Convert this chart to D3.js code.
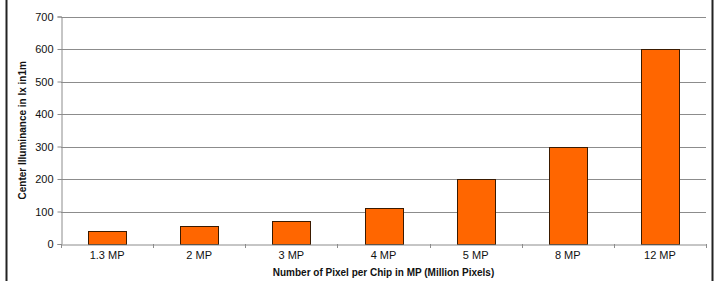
<!DOCTYPE html>
<html><head><meta charset="utf-8">
<script src="https://cdn.jsdelivr.net/npm/d3@7"></script>
<style>body{margin:0;background:#fff}svg{display:block}text{font-family:"Liberation Sans",Arial,sans-serif}</style>
</head><body>
<script>
const categories = ["1.3 MP","2 MP","3 MP","4 MP","5 MP","8 MP","12 MP"];
const values = [40, 55, 70, 110, 200, 300, 600];
const yTicks = [0,100,200,300,400,500,600,700];
const xTitle = "Number of Pixel per Chip in MP (Million Pixels)";
const yTitle = "Center Illuminance in lx in1m";

(function(){
const W = 719, H = 281;
const svg = d3.select("body").append("svg").attr("width", W).attr("height", H);

// frame
svg.append("line").attr("x1",6.5).attr("x2",6.5).attr("y1",0).attr("y2",H).attr("stroke","#222").attr("stroke-width",2);
svg.append("line").attr("x1",712.5).attr("x2",712.5).attr("y1",0).attr("y2",H).attr("stroke","#222").attr("stroke-width",2);

const pl = 61, pr = 706, pt = 16.5, pb = 244;
const x = d3.scaleBand().domain(categories).range([pl, pr]).paddingInner(0.59).paddingOuter(0.295);
const xb = d3.scaleBand().domain(categories).range([pl, pr]);
const y = d3.scaleLinear().domain([0,700]).range([pb, pt]);

// gridlines
svg.append("g").selectAll("line").data(yTicks.filter(d=>d>0)).join("line")
  .attr("x1", pl).attr("x2", pr)
  .attr("y1", d=>Math.round(y(d))+0.5).attr("y2", d=>Math.round(y(d))+0.5)
  .attr("stroke","#8c8c8c").attr("stroke-width",1);

// y axis
const ya = svg.append("g").attr("transform",`translate(${pl+0.5},0)`)
  .call(d3.axisLeft(y).tickValues(yTicks).tickSize(4).tickPadding(4));
ya.select(".domain").attr("stroke","#8c8c8c");
ya.selectAll(".tick line").attr("stroke","#8c8c8c");
ya.selectAll("text").attr("font-size",11).attr("fill","#111").attr("font-family","Liberation Sans, Arial, sans-serif");

// bars
svg.append("g").selectAll("rect").data(values).join("rect")
  .attr("x",(d,i)=>Math.round(x(categories[i]))+0.5)
  .attr("y",d=>Math.round(y(d))+0.5)
  .attr("width",Math.round(x.bandwidth()))
  .attr("height",d=>Math.round(y(0))-Math.round(y(d)))
  .attr("fill","#ff6600").attr("stroke","#3a1a00").attr("stroke-width",1);

// x axis
const xa = svg.append("g").attr("transform",`translate(0,${pb+0.5})`)
  .call(d3.axisBottom(xb).tickSize(0).tickPadding(7));
xa.select(".domain").attr("stroke","#8c8c8c");
xa.selectAll("text").attr("font-size",11).attr("fill","#111").attr("font-family","Liberation Sans, Arial, sans-serif");
const bounds = categories.map(c=>xb(c)).concat([pr]);
svg.append("g").selectAll("line").data(bounds).join("line")
  .attr("x1",d=>Math.round(d)+0.5).attr("x2",d=>Math.round(d)+0.5)
  .attr("y1",pb).attr("y2",pb+4).attr("stroke","#8c8c8c");

// titles
svg.append("text").attr("x",(pl+pr)/2).attr("y",276).attr("text-anchor","middle")
  .attr("font-size",10).attr("font-weight","bold").attr("fill","#111").text(xTitle);
svg.append("text").attr("transform",`translate(26,${(pt+pb)/2}) rotate(-90)`).attr("text-anchor","middle")
  .attr("font-size",10).attr("font-weight","bold").attr("fill","#111").text(yTitle);
})();
</script>
</body></html>
